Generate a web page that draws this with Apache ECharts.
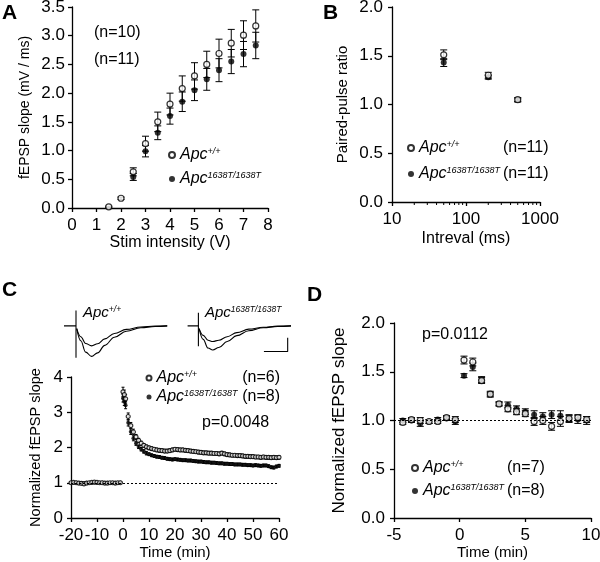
<!DOCTYPE html>
<html><head><meta charset="utf-8">
<script src="https://cdn.jsdelivr.net/npm/echarts@6/dist/echarts.min.js"></script>
<style>html,body{margin:0;padding:0;background:#fff}#c{width:600px;height:562px}</style>
</head><body><div id="c"></div><script>
// ---------- Panel A: input/output ----------
const aIntensityWT = [1.5, 2, 2.5, 3, 3.5, 4, 4.5, 5, 5.5, 6, 6.5, 7, 7.5];
const aWT    = [0.02, 0.17, 0.63, 1.12, 1.50, 1.81, 2.08, 2.30, 2.50, 2.69, 2.87, 3.01, 3.17];
const aWTerr = [0.01, 0.02, 0.07, 0.13, 0.17, 0.19, 0.22, 0.23, 0.23, 0.25, 0.24, 0.25, 0.28];
const aIntensityMut = [2.5, 3, 3.5, 4, 4.5, 5, 5.5, 6, 6.5, 7, 7.5];
const aMut    = [0.54, 0.99, 1.31, 1.60, 1.85, 2.05, 2.24, 2.40, 2.55, 2.68, 2.83];
const aMutErr = [0.06, 0.10, 0.12, 0.14, 0.17, 0.18, 0.19, 0.20, 0.21, 0.22, 0.23];

// ---------- Panel B: paired-pulse ----------
const bInterval = [50, 200, 500];
const bWT = [1.51, 1.30, 1.05];
const bWTerr = [0.05, 0.03, 0.02];
const bMut = [1.43, 1.28, 1.046];
const bMutErr = [0.04, 0.02, 0.02];
const bMinorTicks = [20, 30, 40, 50, 60, 70, 80, 90, 200, 300, 400, 500, 600, 700, 800, 900];

// ---------- Panel C: LTP time course ----------
const cTimes = [-20,-19,-18,-17,-16,-15,-14,-13,-12,-11,-10,-9,-8,-7,-6,-5,-4,-3,-2,-1,
  0,0.5,1,2,3,4,5,6,7,8,9,10,11,12,13,14,15,16,17,18,19,20,21,22,23,24,25,26,27,28,29,30,
  31,32,33,34,35,36,37,38,39,40,41,42,43,44,45,46,47,48,49,50,51,52,53,54,55,56,57,58,59,60];
const cWT = [1.0,1.01,1.0,0.99,0.98,0.97,0.99,1.0,1.01,1.02,1.01,1.0,1.0,0.99,0.99,1.0,1.0,0.99,1.0,1.0,
  3.58,3.50,3.38,2.88,2.62,2.44,2.30,2.20,2.12,2.06,2.02,1.99,1.97,1.95,1.93,1.92,1.91,1.90,1.90,1.91,1.93,1.95,
  1.94,1.93,1.93,1.92,1.91,1.90,1.89,1.88,1.87,1.86,1.85,1.85,1.84,1.84,1.83,1.83,1.82,1.84,1.82,1.80,
  1.79,1.78,1.78,1.77,1.77,1.76,1.75,1.75,1.74,1.74,1.73,1.73,1.72,1.73,1.72,1.72,1.71,1.72,1.71,1.72];
const cWTerr = [0.02,0.02,0.02,0.02,0.02,0.02,0.02,0.02,0.02,0.02,0.02,0.02,0.02,0.02,0.02,0.02,0.02,0.02,0.02,0.02,
  0.13,0.13,0.12,0.10,0.09,0.08,0.07,0.06,0.06,0.05,0.05,0.05,0.05,0.05,0.05,0.05,0.05,0.05,0.05,0.05,0.05,0.05,
  0.05,0.05,0.05,0.05,0.05,0.05,0.05,0.05,0.05,0.05,0.05,0.05,0.05,0.05,0.05,0.05,0.05,0.05,0.05,0.05,
  0.05,0.05,0.05,0.05,0.05,0.05,0.05,0.05,0.05,0.05,0.05,0.05,0.05,0.05,0.05,0.05,0.05,0.05,0.05,0.05];
const cMut = [1.0,1.0,1.01,1.0,0.99,0.99,1.0,1.0,1.0,1.01,1.0,1.0,1.01,1.0,1.0,0.99,1.0,1.0,1.0,1.01,
  3.40,3.30,3.20,2.70,2.45,2.26,2.12,2.02,1.95,1.89,1.84,1.81,1.78,1.76,1.74,1.73,1.71,1.70,1.68,1.67,1.66,1.67,
  1.66,1.65,1.64,1.64,1.63,1.63,1.62,1.61,1.60,1.60,1.59,1.58,1.58,1.57,1.57,1.56,1.55,1.55,1.54,1.54,
  1.53,1.53,1.52,1.52,1.52,1.51,1.51,1.50,1.50,1.49,1.50,1.49,1.48,1.49,1.49,1.47,1.44,1.43,1.46,1.48];
const cMutErr = [0.02,0.02,0.02,0.02,0.02,0.02,0.02,0.02,0.02,0.02,0.02,0.02,0.02,0.02,0.02,0.02,0.02,0.02,0.02,0.02,
  0.11,0.11,0.10,0.09,0.08,0.07,0.06,0.05,0.05,0.05,0.05,0.04,0.04,0.04,0.04,0.04,0.04,0.04,0.04,0.04,0.04,0.04,
  0.04,0.04,0.04,0.04,0.04,0.04,0.04,0.04,0.04,0.04,0.04,0.04,0.04,0.04,0.04,0.04,0.04,0.04,0.04,0.04,
  0.04,0.04,0.04,0.04,0.04,0.04,0.04,0.04,0.04,0.04,0.04,0.04,0.04,0.04,0.04,0.04,0.04,0.04,0.04,0.04];

// ---------- Panel C: example traces (ms, mV) ----------
const trBaseL = [[0,0],[5,0]];
const trArtL = [[5,0.57],[5,-1.18]];
const trDeepL = [[5.3,-0.1],[7,-0.55],[9,-0.97],[11.5,-1.13],[14,-1.0],[17,-0.72],[21,-0.42],[26,-0.2],[32,-0.07],[38,-0.02],[43,0]];
const trShalL = [[5.3,-0.1],[7,-0.4],[9,-0.65],[11.5,-0.74],[14,-0.66],[17,-0.48],[21,-0.28],[26,-0.13],[32,-0.04],[38,-0.01],[43,0]];
const trBaseR = [[51.5,0],[56,0]];
const trArtR = [[56,0.49],[56,-0.75]];
const trDeepR = [[56.3,-0.1],[58,-0.5],[60,-0.82],[62,-0.89],[64.5,-0.8],[68,-0.58],[72,-0.36],[77,-0.18],[83,-0.07],[89,-0.02],[94.6,0]];
const trShalR = [[56.3,-0.1],[58,-0.35],[60,-0.53],[62,-0.58],[64.5,-0.53],[68,-0.4],[72,-0.25],[77,-0.12],[83,-0.05],[89,-0.01],[94.6,0]];
const trScale = [[83.3,-0.95],[93.2,-0.95],[93.2,-0.44]];

// ---------- Panel D: PTP ----------
const dTimes = [-4.33,-3.67,-3,-2.33,-1.67,-1,-0.33,0.33,1,1.67,2.33,3,3.67,4.33,5,5.67,6.33,7,7.67,8.33,9,9.67];
const dWT    = [0.98,1.01,1.0,0.99,0.99,1.03,1.01,1.62,1.60,1.41,1.27,1.17,1.12,1.09,1.07,0.99,1.0,0.94,0.99,1.02,1.03,1.01];
const dWTerr = [0.02,0.02,0.03,0.02,0.02,0.02,0.03,0.04,0.04,0.03,0.02,0.02,0.03,0.03,0.03,0.04,0.04,0.04,0.05,0.03,0.03,0.03];
const dMut    = [1.0,1.0,0.97,0.99,1.01,1.02,0.99,1.46,1.55,1.42,1.27,1.17,1.16,1.12,1.09,1.06,1.04,1.06,1.05,1.02,1.01,1.0];
const dMutErr = [0.02,0.02,0.03,0.02,0.02,0.02,0.03,0.02,0.04,0.03,0.03,0.02,0.03,0.03,0.03,0.04,0.04,0.04,0.05,0.04,0.04,0.04];

const WT = 'Apc+/+', MUT = 'Apc1638T/1638T';
const FONT = '"Liberation Sans", Arial, sans-serif';
const TICK_FS = 17;

function valAxis(gi, o) {
  return Object.assign({
    type: 'value', gridIndex: gi, nameLocation: 'middle',
    axisLine: {show: true, onZero: false, lineStyle: {color: '#000', width: 1.3}},
    axisTick: {show: true, inside: false, length: 4, lineStyle: {color: '#000', width: 1.3}},
    axisLabel: {color: '#000', fontSize: TICK_FS, fontFamily: FONT, margin: o.margin || 8, formatter: o.fmt},
    splitLine: {show: false},
    nameTextStyle: {color: '#000', fontSize: o.nameFs || 16, fontFamily: FONT}
  }, o.extra);
}
function hiddenAxis(gi, min, max) {
  return {type: 'value', gridIndex: gi, min: min, max: max, show: false,
    axisLine: {show: false}, axisTick: {show: false}, axisLabel: {show: false}, splitLine: {show: false}};
}
let errCount = 0;
function errSeries(idx, xs, ys, es, cap, mark) {
  const s = {
    type: 'custom', name: 'err' + (errCount++), xAxisIndex: idx, yAxisIndex: idx, silent: true, z: 1,
    animation: false,
    data: xs.map((x, i) => [x, ys[i] - es[i], ys[i] + es[i]]),
    encode: {x: 0, y: [1, 2]},
    renderItem(params, api) {
      const lo = api.coord([api.value(0), api.value(1)]);
      const hi = api.coord([api.value(0), api.value(2)]);
      const st = {stroke: '#000', lineWidth: 1};
      return {type: 'group', children: [
        {type: 'line', shape: {x1: lo[0], y1: lo[1], x2: hi[0], y2: hi[1]}, style: st},
        {type: 'line', shape: {x1: lo[0] - cap, y1: lo[1], x2: lo[0] + cap, y2: lo[1]}, style: st},
        {type: 'line', shape: {x1: hi[0] - cap, y1: hi[1], x2: hi[0] + cap, y2: hi[1]}, style: st}
      ]};
    }
  };
  if (mark) s.markLine = {silent: true, symbol: 'none', label: {show: false}, animation: false,
    lineStyle: {type: [2, 2], color: '#000', width: 1}, data: [{yAxis: 1}]};
  return s;
}
function pts(name, idx, xs, ys, open, size) {
  return {
    type: 'scatter', name: name, xAxisIndex: idx, yAxisIndex: idx, symbol: 'circle', symbolSize: size,
    z: open ? 4 : 3, silent: true, animation: false,
    data: xs.map((x, i) => [x, ys[i]]),
    itemStyle: open ? {color: '#fff', borderColor: '#000', borderWidth: 1.2} : {color: '#000', borderColor: '#000', borderWidth: 0},
    emphasis: {disabled: true}
  };
}
function traceLine(data, smooth) {
  return {type: 'line', xAxisIndex: 4, yAxisIndex: 4, data: data, symbol: 'none', smooth: smooth ? 0.4 : false,
    smoothMonotone: 'x', silent: true, animation: false, lineStyle: {color: '#000', width: 1.1}, z: 2};
}
function richSet(fa, fs) {
  return {
    a: {fontSize: fa, fontStyle: 'italic', fontFamily: FONT, color: '#000', lineHeight: fa, verticalAlign: 'bottom'},
    s: {fontSize: fs, fontStyle: 'italic', fontFamily: FONT, color: '#000', lineHeight: fs + 4, verticalAlign: 'top'}
  };
}
const richLegend = richSet(16, 9);
const richTrace = richSet(15, 8.5);
function legendAt(left, top, gap, iw) {
  return {data: [WT, MUT], orient: 'vertical', left: left, top: top, itemGap: gap, padding: 0,
    itemWidth: iw, itemHeight: iw, icon: 'circle', selectedMode: false,
    formatter: n => n === WT ? '{a|Apc}{s|+/+}' : '{a|Apc}{s|1638T/1638T}',
    textStyle: {rich: richLegend}};
}
function txt(x, y, t, align) {
  return {type: 'text', x: x, y: y, silent: true,
    style: {text: t, fill: '#000', font: '16px ' + FONT, align: align || 'left', verticalAlign: 'middle',
      textAlign: align || 'left', textVerticalAlign: 'middle'}};
}
function letter(x, y, t) {
  return {type: 'text', x: x, y: y, silent: true,
    style: {text: t, fill: '#000', font: 'bold 21px ' + FONT, align: 'left', verticalAlign: 'middle',
      textAlign: 'left', textVerticalAlign: 'middle'}};
}
function richTxt(x, y, t) {
  return {type: 'text', x: x, y: y, silent: true,
    style: {text: t, rich: richTrace, fill: '#000', align: 'left', verticalAlign: 'middle', textAlign: 'left', textVerticalAlign: 'middle'}};
}

const fmt1 = v => v.toFixed(1);
const option = {
  animation: false,
  backgroundColor: '#fff',
  grid: [
    {left: 72, top: 7, width: 196, height: 201, containLabel: false, outerBoundsMode: 'none'},
    {left: 392, top: 7, width: 148, height: 195, containLabel: false, outerBoundsMode: 'none'},
    {left: 71, top: 377, width: 208, height: 141, containLabel: false, outerBoundsMode: 'none'},
    {left: 394, top: 323, width: 197, height: 195, containLabel: false, outerBoundsMode: 'none'},
    {left: 64, top: 307, width: 228, height: 54, containLabel: false, outerBoundsMode: 'none'}
  ],
  xAxis: [
    valAxis(0, {margin: 9, extra: {min: 0, max: 8, interval: 1, name: 'Stim intensity (V)', nameGap: 27}}),
    Object.assign(valAxis(1, {margin: 9, fmt: v => String(v), extra: {}}),
      {type: 'log', logBase: 10, min: 10, max: 1000, name: 'Intreval (ms)', nameGap: 29}),
    valAxis(2, {margin: 9, nameFs: 15, extra: {min: -20, max: 60, interval: 10, name: 'Time (min)', nameGap: 24}}),
    valAxis(3, {margin: 9, nameFs: 15, extra: {min: -5, max: 10, interval: 5, name: 'Time (min)', nameGap: 25}}),
    hiddenAxis(4, 0, 95)
  ],
  yAxis: [
    valAxis(0, {margin: 7, fmt: fmt1, nameFs: 14, extra: {min: 0, max: 3.5, interval: 0.5, name: 'fEPSP slope (mV / ms)', nameGap: 40}}),
    valAxis(1, {margin: 9, fmt: fmt1, nameFs: 15, extra: {min: 0, max: 2, interval: 0.5, name: 'Paired-pulse ratio', nameGap: 42}}),
    valAxis(2, {margin: 8, nameFs: 14.5, extra: {min: 0, max: 4, interval: 1, name: 'Normalized fEPSP slope', nameGap: 28}}),
    valAxis(3, {margin: 9, fmt: fmt1, nameFs: 17, extra: {min: 0, max: 2, interval: 0.5, name: 'Normalized fEPSP slope', nameGap: 46}}),
    hiddenAxis(4, -1.3, 0.7)
  ],
  legend: [
    legendAt(168, 147, 8, 6),
    legendAt(407, 140, 10, 6),
    legendAt(145.5, 370, 3, 5),
    legendAt(411, 460, 7, 6)
  ],
  series: [
    // A
    errSeries(0, aIntensityMut, aMut, aMutErr, 3.5),
    errSeries(0, aIntensityWT, aWT, aWTerr, 3.5),
    pts(MUT, 0, aIntensityMut, aMut, false, 6),
    pts(WT, 0, aIntensityWT, aWT, true, 6),
    // B
    errSeries(1, bInterval, bMut, bMutErr, 3.5),
    errSeries(1, bInterval, bWT, bWTerr, 3.5),
    pts(MUT, 1, bInterval, bMut, false, 6),
    pts(WT, 1, bInterval, bWT, true, 6),
    {type: 'custom', name: 'minorTicks', xAxisIndex: 1, yAxisIndex: 1, silent: true, clip: false, animation: false,
      data: bMinorTicks.map(v => [v, 0]), encode: {x: 0, y: 1},
      renderItem(params, api) {
        const p = api.coord([api.value(0), 0]);
        return {type: 'line', shape: {x1: p[0], y1: p[1], x2: p[0], y2: p[1] + 3}, style: {stroke: '#000', lineWidth: 1}};
      }},
    // C
    errSeries(2, cTimes, cMut, cMutErr, 1.5, true),
    errSeries(2, cTimes, cWT, cWTerr, 1.5),
    pts(MUT, 2, cTimes, cMut, false, 4),
    pts(WT, 2, cTimes, cWT, true, 4),
    // D
    errSeries(3, dTimes, dMut, dMutErr, 3.5, true),
    errSeries(3, dTimes, dWT, dWTerr, 3.5),
    pts(MUT, 3, dTimes, dMut, false, 6),
    pts(WT, 3, dTimes, dWT, true, 6),
    // traces
    traceLine(trBaseL), traceLine(trArtL), traceLine(trDeepL, true), traceLine(trShalL, true),
    traceLine(trBaseR), traceLine(trArtR), traceLine(trDeepR, true), traceLine(trShalR, true),
    traceLine(trScale)
  ],
  graphic: [
    letter(2, 13, 'A'), letter(323, 13, 'B'), letter(2, 290, 'C'), letter(307, 295, 'D'),
    txt(94, 33, '(n=10)'), txt(94, 60, '(n=11)'),
    txt(503, 148, '(n=11)'), txt(503, 174, '(n=11)'),
    txt(280, 378, '(n=6)', 'right'), txt(280, 397, '(n=8)', 'right'),
    txt(202, 423, 'p=0.0048'),
    txt(507, 468, '(n=7)'), txt(507, 491, '(n=8)'),
    txt(422, 335, 'p=0.0112'),
    richTxt(83, 313, '{a|Apc}{s|+/+}'),
    richTxt(205, 313, '{a|Apc}{s|1638T/1638T}')
  ]
};
const chart = echarts.init(document.getElementById('c'), null, {renderer: 'canvas'});
chart.setOption(option);
</script></body></html>
